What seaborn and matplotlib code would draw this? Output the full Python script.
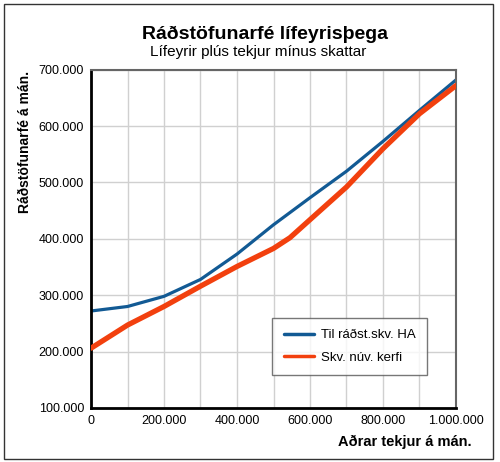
import numpy as np
import pandas as pd
import matplotlib.pyplot as plt
import seaborn as sns
from matplotlib.patches import Rectangle
from matplotlib.ticker import MultipleLocator, FuncFormatter

# values (kr. per month)
income = [0, 100000, 200000, 300000, 400000, 500000, 600000, 700000, 800000, 900000, 1000000]
til_radst_ha = [272000, 280000, 298000, 328000, 373000, 425000, 473000, 520000, 573000, 628000, 682000]

income_nuv = [0, 100000, 200000, 300000, 400000, 500000, 545000, 600000, 700000, 800000, 900000, 1000000]
skv_nuv_kerfi = [206000, 247000, 280000, 316000, 351000, 383000, 402000, 434000, 492000, 560000, 622000, 672000]

series_names = ["Til ráðst.skv. HA", "Skv. núv. kerfi"]
colors = ["#125A94", "#F2400E"]

df = pd.concat([
    pd.DataFrame({"tekjur": income, "radst": til_radst_ha, "ferill": series_names[0]}),
    pd.DataFrame({"tekjur": income_nuv, "radst": skv_nuv_kerfi, "ferill": series_names[1]}),
])

sns.set_style("white")
plt.rcParams["font.family"] = ["Liberation Sans", "DejaVu Sans"]
plt.rcParams["text.color"] = "black"
plt.rcParams["xtick.color"] = "black"
plt.rcParams["ytick.color"] = "black"

fig = plt.figure(figsize=(5, 4.62), dpi=100)
ax = fig.add_axes([0.182, 0.117, 0.730, 0.732])

sns.lineplot(data=df, x="tekjur", y="radst", hue="ferill", hue_order=series_names,
             palette=colors, ax=ax, sort=False, estimator=None, legend=False)
ax.lines[0].set_linewidth(2.3)
ax.lines[1].set_linewidth(3.8)
ax.lines[1].set_zorder(3)
ax.lines[0].set_zorder(2)
for ln in ax.lines:
    ln.set_solid_joinstyle("round")

ax.set_xlim(0, 1000000)
ax.set_ylim(100000, 700000)
ax.xaxis.set_major_locator(MultipleLocator(200000))
ax.xaxis.set_minor_locator(MultipleLocator(100000))
ax.yaxis.set_major_locator(MultipleLocator(100000))
fmt = FuncFormatter(lambda v, p: f"{v:,.0f}".replace(",", "."))
ax.xaxis.set_major_formatter(fmt)
ax.yaxis.set_major_formatter(fmt)
ax.tick_params(axis="both", which="both", length=0, labelsize=9, pad=5)
ax.grid(True, which="both", color="#d0d0d0", linewidth=1)

for side in ["left", "bottom"]:
    ax.spines[side].set_color("black")
    ax.spines[side].set_linewidth(2)
for side in ["top", "right"]:
    ax.spines[side].set_color("#666666")
    ax.spines[side].set_linewidth(1.5)

ax.set_xlabel("")
ax.set_ylabel("")

fig.text(0.53, 0.926, "Ráðstöfunarfé lífeyrisþega", ha="center", va="center",
         fontsize=14, fontweight="bold")
fig.text(0.516, 0.887, "Lífeyrir plús tekjur mínus skattar", ha="center", va="center",
         fontsize=11)
fig.text(0.05, 0.693, "Ráðstöfunarfé á mán.", ha="center", va="center", rotation=90,
         fontsize=10, fontweight="bold")
fig.text(0.81, 0.043, "Aðrar tekjur á mán.", ha="center", va="center",
         fontsize=10.5, fontweight="bold")

handles = [plt.Line2D([], [], color=c, lw=2.5) for c in colors]
leg = ax.legend(handles, series_names, loc="lower left", bbox_to_anchor=(0.497, 0.098),
                borderaxespad=0, frameon=True, fancybox=False, fontsize=9.5,
                handlelength=2.3, borderpad=0.85, labelspacing=0.75, handletextpad=0.5)
leg.get_frame().set_edgecolor("#555555")
leg.get_frame().set_linewidth(1)

fig.patches.append(Rectangle((0.008, 0.007), 0.978, 0.985, transform=fig.transFigure,
                             fill=False, edgecolor="#333333", linewidth=1))

fig.savefig("out.png", dpi=100)
